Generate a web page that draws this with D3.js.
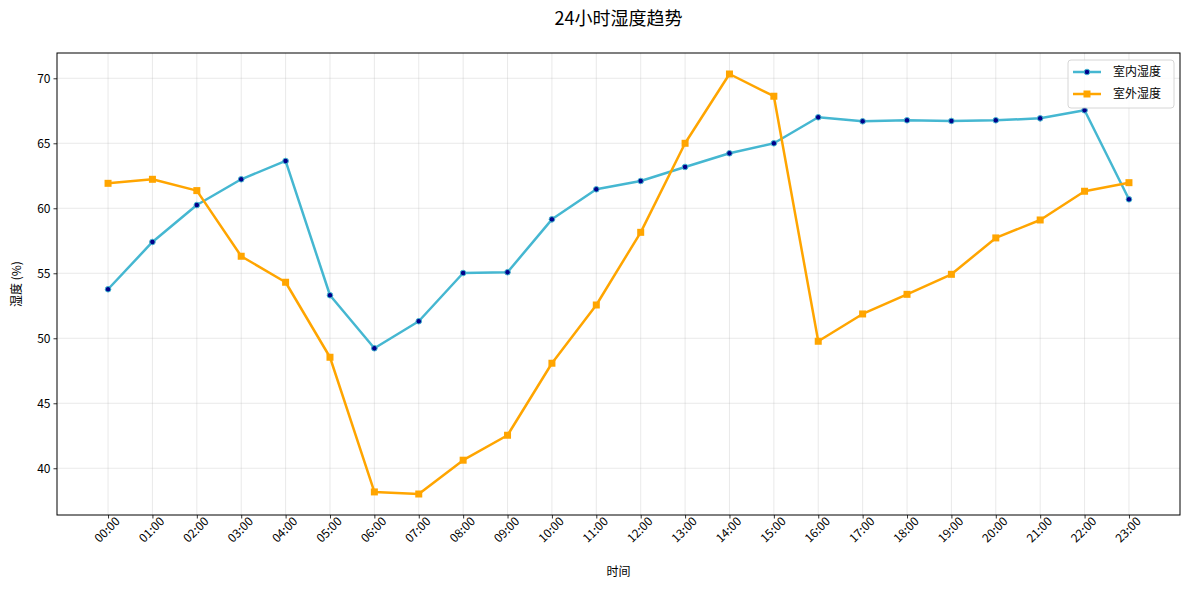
<!DOCTYPE html>
<html>
<head>
<meta charset="utf-8">
<script src="https://cdn.jsdelivr.net/npm/d3@7"></script>
<style>
  body { margin: 0; background: #fff; }
  text { font-family: "Noto Sans CJK SC", "Noto Sans", sans-serif; fill: #000; }
</style>
</head>
<body>
<div id="chart"></div>
<script>
// hours on the x axis
const hours = ['00:00','01:00','02:00','03:00','04:00','05:00','06:00','07:00','08:00','09:00','10:00','11:00',
               '12:00','13:00','14:00','15:00','16:00','17:00','18:00','19:00','20:00','21:00','22:00','23:00'];

const indoor = [53.77, 57.41, 60.25, 62.23, 63.64, 53.31, 49.23, 51.31, 55.02, 55.08, 59.15, 61.46,
                62.10, 63.18, 64.23, 65.00, 67.00, 66.69, 66.77, 66.72, 66.77, 66.92, 67.54, 60.69];

const outdoor = [61.92, 62.23, 61.36, 56.31, 54.31, 48.54, 38.18, 38.02, 40.62, 42.54, 48.08, 52.56,
                 58.15, 65.00, 70.33, 68.62, 49.77, 51.87, 53.38, 54.92, 57.72, 59.10, 61.31, 61.97];

const yTicks = [40, 45, 50, 55, 60, 65, 70];

const W = 1189, H = 590;
const margin = { top: 53, right: 9, bottom: 75, left: 57 };
const width = W - margin.left - margin.right;
const height = H - margin.top - margin.bottom;

const svg = d3.select('#chart').append('svg')
    .attr('width', W)
    .attr('height', H);

const g = svg.append('g')
    .attr('transform', 'translate(' + margin.left + ',' + margin.top + ')');

// scales, with matplotlib style 5% padding
const x = d3.scaleLinear().domain([-1.15, 24.15]).range([0, width]);
const all = indoor.concat(outdoor);
const lo = d3.min(all), hi = d3.max(all), pad = (hi - lo) * 0.05;
const y = d3.scaleLinear().domain([lo - pad, hi + pad]).range([height, 0]);

// grid
g.append('g').selectAll('line').data(hours).join('line')
    .attr('x1', (d, i) => x(i)).attr('x2', (d, i) => x(i))
    .attr('y1', 0).attr('y2', height)
    .attr('stroke', '#b0b0b0').attr('stroke-opacity', 0.35).attr('stroke-width', 0.8);
g.append('g').selectAll('line').data(yTicks).join('line')
    .attr('x1', 0).attr('x2', width)
    .attr('y1', d => y(d)).attr('y2', d => y(d))
    .attr('stroke', '#b0b0b0').attr('stroke-opacity', 0.35).attr('stroke-width', 0.8);

// axes
const xAxis = g.append('g')
    .attr('transform', 'translate(0,' + height + ')')
    .call(d3.axisBottom(x).tickValues(d3.range(hours.length)).tickFormat(i => hours[i]).tickSize(3.5).tickPadding(3));
xAxis.selectAll('text')
    .style('font-size', '12px')
    .attr('text-anchor', 'end')
    .attr('dx', '0.3em')
    .attr('dy', '0.6em')
    .attr('transform', 'rotate(-45)');

const yAxis = g.append('g')
    .call(d3.axisLeft(y).tickValues(yTicks).tickSize(3.5).tickPadding(3));
yAxis.selectAll('text').style('font-size', '12px');

[xAxis, yAxis].forEach(a => {
    a.select('.domain').remove();
    a.selectAll('line').attr('stroke', '#000').attr('stroke-width', 0.8);
});

// frame
g.append('rect')
    .attr('width', width).attr('height', height)
    .attr('fill', 'none').attr('stroke', '#000').attr('stroke-width', 1);

// labels
svg.append('text')
    .attr('x', margin.left + width / 2).attr('y', 25)
    .attr('text-anchor', 'middle')
    .style('font-size', '18px')
    .text('24小时湿度趋势');

svg.append('text')
    .attr('x', margin.left + width / 2).attr('y', 576)
    .attr('text-anchor', 'middle')
    .style('font-size', '12px')
    .text('时间');

svg.append('text')
    .attr('transform', 'translate(21,' + (margin.top + height / 2) + ') rotate(-90)')
    .attr('text-anchor', 'middle')
    .style('font-size', '12px')
    .text('湿度 (%)');

// lines
const line = d3.line()
    .x((d, i) => x(i))
    .y(d => y(d));

const blue = '#45b7d1', orange = '#ffa500';

g.append('path').datum(indoor)
    .attr('d', line).attr('fill', 'none')
    .attr('stroke', blue).attr('stroke-width', 2.5).attr('stroke-linejoin', 'round');

g.append('path').datum(outdoor)
    .attr('d', line).attr('fill', 'none')
    .attr('stroke', orange).attr('stroke-width', 2.5).attr('stroke-linejoin', 'round');

// markers
g.append('g').selectAll('circle').data(indoor).join('circle')
    .attr('cx', (d, i) => x(i)).attr('cy', d => y(d))
    .attr('r', 2.8)
    .attr('fill', '#00008b').attr('stroke', blue).attr('stroke-width', 1);

g.append('g').selectAll('rect').data(outdoor).join('rect')
    .attr('x', (d, i) => x(i) - 3.5).attr('y', d => y(d) - 3.5)
    .attr('width', 7).attr('height', 7)
    .attr('fill', orange);

// legend
const lg = g.append('g').attr('transform', 'translate(' + (width - 112) + ',7)');
lg.append('rect')
    .attr('width', 106).attr('height', 48).attr('rx', 3)
    .attr('fill', '#fff').attr('fill-opacity', 0.8)
    .attr('stroke', '#ccc').attr('stroke-width', 0.8);

const items = [
    { name: '室内湿度', color: blue, shape: 'circle' },
    { name: '室外湿度', color: orange, shape: 'square' }
];
items.forEach((it, i) => {
    const row = lg.append('g').attr('transform', 'translate(0,' + (12 + i * 22) + ')');
    row.append('line')
        .attr('x1', 5).attr('x2', 33)
        .attr('stroke', it.color).attr('stroke-width', 2.5);
    if (it.shape === 'circle') {
        row.append('circle').attr('cx', 19).attr('r', 2.8)
            .attr('fill', '#00008b').attr('stroke', blue).attr('stroke-width', 1);
    } else {
        row.append('rect').attr('x', 15.5).attr('y', -3.5).attr('width', 7).attr('height', 7)
            .attr('fill', orange);
    }
    row.append('text')
        .attr('x', 45).attr('dy', '0.35em')
        .style('font-size', '12px')
        .text(it.name);
});
</script>
</body>
</html>
